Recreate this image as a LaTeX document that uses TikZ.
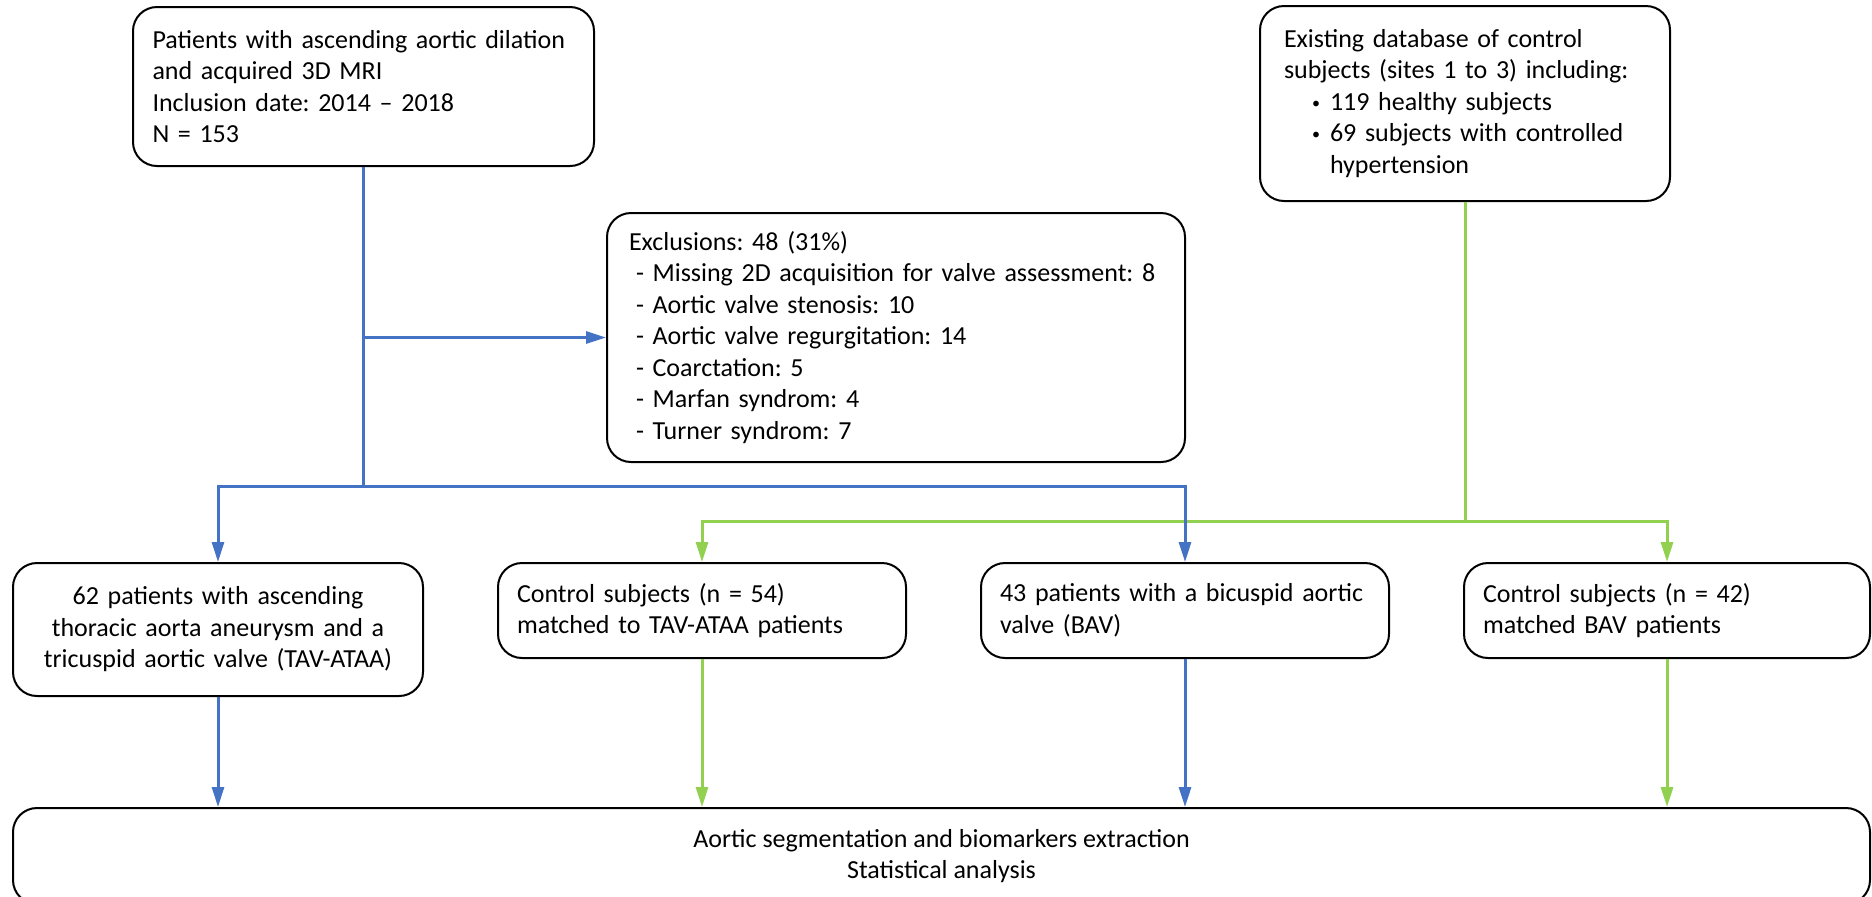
\documentclass[tikz,border=0pt]{standalone}
\usepackage{fontspec}
\setmainfont{Carlito}
\usepackage{tikz}
\usetikzlibrary{calc,positioning,arrows.meta}
\definecolor{flowblue}{HTML}{4472C4}
\definecolor{flowgreen}{HTML}{92D050}
\newcommand{\smallbullet}{\makebox[9pt][l]{\raisebox{1.2pt}{\fontsize{8pt}{8pt}\selectfont\textbullet}}}
\frenchspacing

\begin{document}
\begin{tikzpicture}[x=0.5pt, y=-0.5pt,
  box/.style={draw, line width=1pt, rounded corners=12pt, inner sep=0pt, font=\fontsize{13pt}{15.75pt}\selectfont},
  blueline/.style={draw=flowblue, line width=1.5pt},
  greenline/.style={draw=flowgreen, line width=1.5pt},
  tip/.style={-{Triangle[length=10pt,width=6pt]}}]
\useasboundingbox (0,0) rectangle (1872,896);
% top row
\node[box, minimum width=230.5pt, minimum height=79.5pt, text width=211pt, align=left] (pat) at (363.5,86.5) {Patients with ascending aortic dilation\\and acquired 3D MRI\\Inclusion date: 2014 -- 2018\\N = 153};
\node[box, minimum width=205pt, minimum height=97.5pt, text width=181pt, align=left] (db) at (1465,103.5) {Existing database of control\\subjects (sites 1 to 3) including:\\\hspace*{14pt}\smallbullet 119 healthy subjects\\\hspace*{14pt}\smallbullet 69 subjects with controlled\\\hspace*{23pt}hypertension};
\node[box, minimum width=289pt, minimum height=124.5pt, text width=267pt, align=left] (excl) at (896,337.5) {Exclusions: 48 (31\%)\\\hspace*{3.5pt}- Missing 2D acquisition for valve assessment: 8\\\hspace*{3.5pt}- Aortic valve stenosis: 10\\\hspace*{3.5pt}- Aortic valve regurgitation: 14\\\hspace*{3.5pt}- Coarctation: 5\\\hspace*{3.5pt}- Marfan syndrom: 4\\\hspace*{3.5pt}- Turner syndrom: 7};
% groups
\node[box, minimum width=205pt, minimum height=66.5pt, text width=195pt, align=center] (tav) at (218,629.5) {62 patients with ascending\\thoracic aorta aneurysm and a\\tricuspid aortic valve (TAV-ATAA)};
\node[box, minimum width=204pt, minimum height=47.5pt, text width=185pt, align=left] (ctav) at (702,610.5) {Control subjects (n = 54)\\matched to TAV-ATAA patients};
\node[box, minimum width=204pt, minimum height=47.5pt, text width=185pt, align=left] (bav) at (1185,610.5) {43 patients with a bicuspid aortic\\valve (BAV)};
\node[box, minimum width=203pt, minimum height=47.5pt, text width=184pt, align=left] (cbav) at (1667,610.5) {Control subjects (n = 42)\\matched BAV patients};
\node[box, minimum width=928.5pt, minimum height=48pt, align=center] (res) at (941.5,856) {Aortic segmentation and biomarkers extraction\\Statistical analysis};
% connectors
\coordinate (bsplit) at (0,486);
\coordinate (gsplit) at (0,521);
\draw[greenline] (db.south) -- (db.south |- gsplit);
\draw[greenline, tip] (db.south |- gsplit) -| (ctav.north);
\draw[greenline, tip] (db.south |- gsplit) -| (cbav.north);
\draw[blueline] (pat.south) -- (pat.south |- bsplit);
\draw[blueline, tip] (pat.south |- excl.west) -- (excl.west);
\draw[blueline, tip] (pat.south |- bsplit) -| (tav.north);
\draw[blueline, tip] (pat.south |- bsplit) -| (bav.north);
\foreach \n/\c in {tav/blueline, ctav/greenline, bav/blueline, cbav/greenline}
  \draw[\c, tip] (\n.south) -- (\n.south |- res.north);
\end{tikzpicture}
\end{document}
